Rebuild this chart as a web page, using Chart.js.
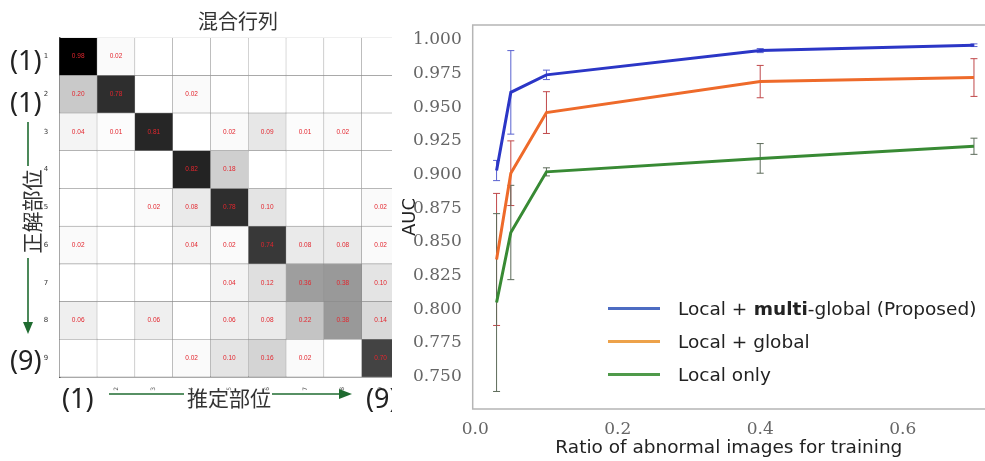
<!DOCTYPE html>
<html>
<head>
<meta charset="utf-8">
<script src="https://cdn.jsdelivr.net/npm/chart.js@4.4.0/dist/chart.umd.min.js"></script>
<style>
  html, body { margin: 0; padding: 0; background: #fff; }
  body { width: 985px; height: 461px; position: relative; overflow: hidden; }
  #left { position: absolute; left: 0; top: 0; width: 392px; height: 461px; overflow: hidden; }
  #right { position: absolute; left: 400px; top: 0; width: 585px; height: 461px; }
  .t { position: absolute; white-space: nowrap; color: #222; line-height: 1; }
  .jp { font-family: "Noto Sans CJK JP", "Noto Sans", sans-serif; }
  .big { font-family: "Noto Sans", sans-serif; font-size: 27px; }
  #legend { position: absolute; left: 608px; top: 292px; font-family: "DejaVu Sans", sans-serif; font-size: 18.5px; color: #222; }
  #legend div { height: 33px; display: flex; align-items: center; }
  #legend span.ln { display: inline-block; width: 52px; height: 3px; margin-right: 18px; }
</style>
</head>
<body>

<div id="left">
  <canvas id="matrix" width="402" height="461"></canvas>
  <div class="t jp" style="left:198px; top:11px; font-size:20px; color:#333;">混合行列</div>
  <div class="t big" style="left:10px; top:46px;">(1)</div>
  <div class="t big" style="left:10px; top:88px;">(1)</div>
  <div class="t big" style="left:10px; top:346px;">(9)</div>
  <div class="t jp" style="left:-11px; top:201px; font-size:21px; transform:rotate(-90deg); color:#333;">正解部位</div>
  <div class="t big" style="left:62px; top:384px;">(1)</div>
  <div class="t jp" style="left:187px; top:387px; font-size:21px; color:#333;">推定部位</div>
  <div class="t big" style="left:366px; top:384px;">(9)</div>
  <svg width="392" height="461" style="position:absolute; left:0; top:0;">
    <g stroke="#1f6b30" stroke-width="1.6" fill="#1f6b30">
      <line x1="28" y1="122" x2="28" y2="166" />
      <line x1="28" y1="258" x2="28" y2="324" />
      <polygon points="23,322 33,322 28,334" stroke="none" />
      <line x1="109" y1="394" x2="184" y2="394" />
      <line x1="272" y1="394" x2="341" y2="394" />
      <polygon points="339,389 339,399 352,394" stroke="none" />
    </g>
  </svg>
</div>

<div id="right">
  <canvas id="auc" width="585" height="461"></canvas>
</div>

<div id="legend">
  <div><span class="ln" style="background:#4d6cc2"></span>Local + <b>&nbsp;multi</b>-global (Proposed)</div>
  <div><span class="ln" style="background:#eda24a"></span>Local + global</div>
  <div><span class="ln" style="background:#4f9a4a"></span>Local only</div>
</div>

<script>
// ---- confusion matrix data (rows: true part, cols: predicted part)
const rowLabels = ['1', '2', '3', '4', '5', '6', '7', '8', '9'];
const colLabels = ['1', '2', '3', '4', '5', '6', '7', '8', '9'];
const matrix = [
  [0.98, 0.02, 0, 0, 0, 0, 0, 0, 0],
  [0.20, 0.78, 0, 0.02, 0, 0, 0, 0, 0],
  [0.04, 0.01, 0.81, 0, 0.02, 0.09, 0.01, 0.02, 0],
  [0, 0, 0, 0.82, 0.18, 0, 0, 0, 0],
  [0, 0, 0.02, 0.08, 0.78, 0.10, 0, 0, 0.02],
  [0.02, 0, 0, 0.04, 0.02, 0.74, 0.08, 0.08, 0.02],
  [0, 0, 0, 0, 0.04, 0.12, 0.36, 0.38, 0.10],
  [0.06, 0, 0.06, 0, 0.06, 0.08, 0.22, 0.38, 0.14],
  [0, 0, 0, 0.02, 0.10, 0.16, 0.02, 0, 0.70]
];

// ---- AUC curves
const ratios = [0.03, 0.05, 0.1, 0.4, 0.7];
const aucMulti = [0.903, 0.961, 0.974, 0.992, 0.996];
const errMulti = [0.0075, 0.031, 0.0035, 0.0015, 0.001];
const aucGlobal = [0.837, 0.901, 0.946, 0.969, 0.972];
const errGlobal = [0.049, 0.024, 0.0155, 0.012, 0.014];
const aucLocal = [0.805, 0.857, 0.902, 0.912, 0.921];
const errLocal = [0.066, 0.035, 0.003, 0.011, 0.006];
const aucTicks = [0.750, 0.775, 0.800, 0.825, 0.850, 0.875, 0.900, 0.925, 0.950, 0.975, 1.000];
const ratioTicks = [0.0, 0.2, 0.4, 0.6];

function cellColor(v) {
  const g = Math.round(255 * Math.max(0, 1 - v / 0.95));
  return 'rgb(' + g + ',' + g + ',' + g + ')';
}

// writes the value in each cell
const cellText = {
  id: 'cellText',
  afterDatasetsDraw(chart) {
    const ctx = chart.ctx;
    ctx.save();
    ctx.font = '6.5px "Liberation Sans", sans-serif';
    ctx.fillStyle = '#e3262e';
    ctx.textAlign = 'center';
    ctx.textBaseline = 'middle';
    chart.data.datasets.forEach(function (ds, j) {
      chart.getDatasetMeta(j).data.forEach(function (el, i) {
        const v = matrix[i][j];
        if (!v) return;
        const p = el.getProps(['x', 'y', 'base'], true);
        ctx.fillText(v.toFixed(2), (p.x + p.base) / 2, p.y);
      });
    });
    ctx.restore();
  }
};

new Chart(document.getElementById('matrix'), {
  type: 'bar',
  data: {
    labels: rowLabels,
    datasets: colLabels.map(function (c, j) {
      return {
        label: c,
        data: rowLabels.map(function () { return 1; }),
        backgroundColor: matrix.map(function (r) { return cellColor(r[j]); }),
        borderColor: '#8c8c8c',
        borderWidth: 0.6,
        categoryPercentage: 1,
        barPercentage: 1
      };
    })
  },
  options: {
    indexAxis: 'y',
    responsive: false,
    animation: false,
    layout: { padding: { top: 37.7, right: 2.5, left: 0, bottom: 0 } },
    plugins: { legend: { display: false }, tooltip: { enabled: false } },
    scales: {
      x: {
        type: 'linear', stacked: true, min: 0, max: 9,
        grid: { display: false },
        border: { display: true, color: '#555', width: 1.5 },
        afterBuildTicks: function (s) {
          s.ticks = colLabels.map(function (c, j) { return { value: j + 0.5 }; });
        },
        ticks: {
          autoSkip: false, minRotation: 90, maxRotation: 90, padding: 2,
          font: { size: 6, family: 'DejaVu Sans' }, color: '#555',
          callback: function (v) { return colLabels[Math.floor(v)]; }
        },
        afterFit: function (s) { s.height = 84; }
      },
      y: {
        stacked: true,
        grid: { display: false },
        border: { display: true, color: '#555', width: 1.5 },
        ticks: { font: { size: 7, family: 'DejaVu Sans' }, color: '#333', padding: 3 },
        afterFit: function (s) { s.width = 59.3; }
      }
    }
  },
  plugins: [cellText]
});

// error bars + frame for the AUC chart
const errorBars = {
  id: 'errorBars',
  beforeDatasetsDraw(chart) {
    const ctx = chart.ctx, xs = chart.scales.x, ys = chart.scales.y;
    ctx.save();
    ctx.lineWidth = 1;
    chart.data.datasets.forEach(function (ds) {
      ctx.strokeStyle = ds.errColor;
      ds.err.forEach(function (e, i) {
        const px = xs.getPixelForValue(ratios[i]);
        const top = ys.getPixelForValue(ds.auc[i] + e);
        const bot = ys.getPixelForValue(ds.auc[i] - e);
        ctx.beginPath();
        ctx.moveTo(px, top); ctx.lineTo(px, bot);
        ctx.moveTo(px - 3.5, top); ctx.lineTo(px + 3.5, top);
        ctx.moveTo(px - 3.5, bot); ctx.lineTo(px + 3.5, bot);
        ctx.stroke();
      });
    });
    ctx.restore();
  },
  afterDraw(chart) {
    // frame: right side is cut off in the reference
    const a = chart.chartArea, ctx = chart.ctx;
    ctx.save();
    ctx.strokeStyle = '#b5b5b5';
    ctx.lineWidth = 1.5;
    ctx.beginPath();
    ctx.moveTo(a.right + 2, a.top);
    ctx.lineTo(a.left, a.top);
    ctx.lineTo(a.left, a.bottom);
    ctx.lineTo(a.right + 2, a.bottom);
    ctx.stroke();
    ctx.restore();
  }
};

function series(auc, err, color, errColor) {
  return {
    data: ratios.map(function (x, i) { return { x: x, y: auc[i] }; }),
    auc: auc, err: err, errColor: errColor,
    borderColor: color, borderWidth: 3, pointRadius: 0, fill: false, tension: 0
  };
}

new Chart(document.getElementById('auc'), {
  type: 'line',
  data: {
    datasets: [
      series(aucMulti, errMulti, '#2b36c6', '#5a62d0'),
      series(aucGlobal, errGlobal, '#ee6a2a', '#c0484a'),
      series(aucLocal, errLocal, '#388a34', '#5d6b5a')
    ]
  },
  options: {
    responsive: false,
    animation: false,
    layout: { padding: { top: 25, right: 0, left: 0, bottom: 2 } },
    plugins: { legend: { display: false }, tooltip: { enabled: false } },
    scales: {
      x: {
        type: 'linear', min: -0.0035, max: 0.7155,
        grid: { display: false },
        border: { display: false },
        afterBuildTicks: function (s) {
          s.ticks = ratioTicks.map(function (v) { return { value: v }; });
        },
        ticks: {
          padding: 2, maxRotation: 0,
          font: { size: 17, family: 'DejaVu Serif' }, color: '#666',
          callback: function (v) { return v.toFixed(1); }
        },
        title: {
          display: true, text: 'Ratio of abnormal images for training',
          font: { size: 18.5, family: 'DejaVu Sans' }, color: '#222', padding: { top: 2, bottom: 0 }
        },
        afterFit: function (s) { s.height = 50; }
      },
      y: {
        min: 0.726, max: 1.011,
        grid: { display: false },
        border: { display: false },
        afterBuildTicks: function (s) {
          s.ticks = aucTicks.map(function (v) { return { value: v }; });
        },
        ticks: {
          padding: 3,
          font: { size: 17, family: 'DejaVu Serif' }, color: '#666',
          callback: function (v) { return v.toFixed(3); }
        },
        title: {
          display: true, text: 'AUC',
          font: { size: 18, family: 'DejaVu Sans' }, color: '#222', padding: 0
        },
        afterFit: function (s) { s.width = 72.7; }
      }
    }
  },
  plugins: [errorBars]
});
</script>
</body>
</html>
